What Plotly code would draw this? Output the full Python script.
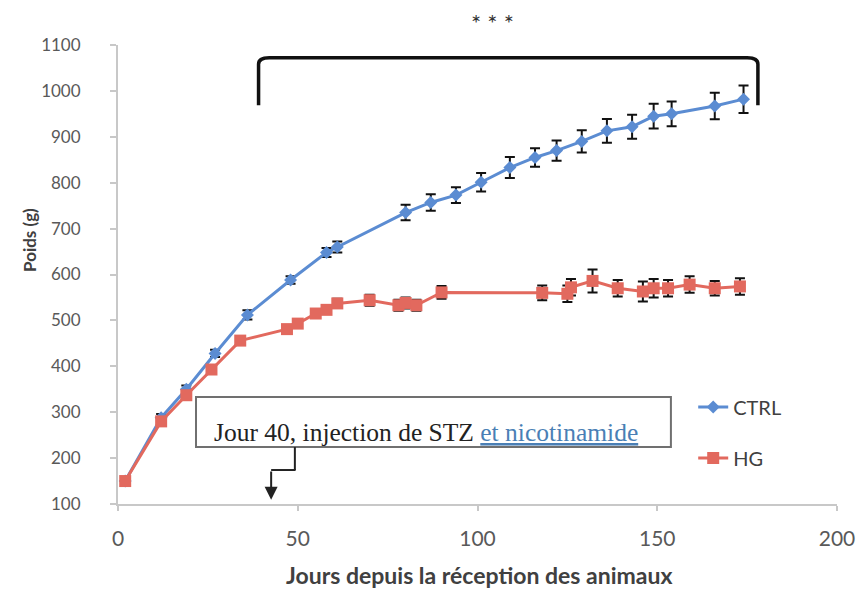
import plotly.graph_objects as go

# Body weight follow-up (g) by day since arrival
ctrl_days = [2, 12, 19, 27, 36, 48, 58, 61, 80, 87, 94, 101, 109, 116, 122, 129, 136, 143, 149, 154, 166, 174]
ctrl_weight = [150, 288, 350, 428, 512, 588, 648, 660, 735, 757, 773, 801, 833, 855, 870, 890, 913, 922, 945, 950, 967, 982]
ctrl_err = [5, 8, 8, 8, 10, 8, 10, 12, 17, 18, 17, 20, 23, 20, 22, 24, 26, 26, 27, 27, 29, 30]

hg_days = [2, 12, 19, 26, 34, 47, 50, 55, 58, 61, 70, 78, 80, 83, 90, 118, 125, 126, 132, 139, 146, 149, 153, 159, 166, 173]
hg_weight = [150, 280, 337, 393, 456, 481, 493, 515, 523, 537, 544, 533, 538, 533, 561, 560, 558, 572, 586, 570, 563, 570, 570, 578, 570, 574]
hg_err = [5, 6, 6, 6, 6, 8, 8, 8, 8, 10, 12, 12, 12, 12, 14, 16, 18, 18, 25, 18, 22, 20, 18, 18, 16, 18]

x_ticks = [0, 50, 100, 150, 200]
y_ticks = [100, 200, 300, 400, 500, 600, 700, 800, 900, 1000, 1100]

BLUE = "#5B8CD2"
RED = "#E2695E"
AXIS_GREY = "#C8C8C8"
TEXT_GREY = "#595959"
FONT = "Lato, 'Open Sans', sans-serif"

fig = go.Figure()

fig.add_trace(go.Scatter(
    x=ctrl_days, y=ctrl_weight, name="CTRL", mode="lines+markers",
    line=dict(color=BLUE, width=3),
    marker=dict(symbol="diamond", size=10, color=BLUE),
    error_y=dict(type="data", array=ctrl_err, color="#111111", thickness=2, width=5),
    legendgroup="ctrl",
))
fig.add_trace(go.Scatter(
    x=hg_days, y=hg_weight, name="HG", mode="lines+markers",
    line=dict(color=RED, width=3),
    marker=dict(symbol="square", size=12, color=RED),
    error_y=dict(type="data", array=hg_err, color="#111111", thickness=2, width=5),
    legendgroup="hg",
))

# Significance bracket over the post-injection period
bx0, bx1, by_top, by_end = 39.1, 178.0, 1072, 969
bracket = (f"M {bx0},{by_end} L {bx0},{by_top - 14} Q {bx0},{by_top} {bx0 + 3},{by_top} "
           f"L {bx1 - 3},{by_top} Q {bx1},{by_top} {bx1},{by_top - 14} L {bx1},{by_end}")

shapes = [
    dict(type="path", xref="x", yref="y", path=bracket,
         line=dict(color="#111111", width=3.5), layer="above"),
    # Callout box for the injection day
    dict(type="rect", xref="x", yref="y", x0=21.7, x1=153.8, y0=224, y1=333,
         line=dict(color="#707070", width=2), fillcolor="white", layer="above"),
    # Elbow connector from the box down to day 40
    dict(type="line", xref="x", yref="y", x0=49.2, x1=49.2, y0=224, y1=174,
         line=dict(color="#222222", width=2), layer="above"),
    dict(type="line", xref="x", yref="y", x0=49.4, x1=42.6, y0=174, y1=174,
         line=dict(color="#222222", width=2), layer="above"),
]

annotations = [
    dict(x=42.6, y=109, xref="x", yref="y", ax=42.6, ay=174, axref="x", ayref="y",
         text="", showarrow=True, arrowhead=2, arrowsize=1.3, arrowwidth=2,
         arrowcolor="#222222"),
    dict(x=26.1, y=255, xref="x", yref="y", xanchor="left", yanchor="middle", showarrow=False,
         text="Jour 40, injection de STZ <span style='color:#4A7FB5'><u>et nicotinamide</u></span>",
         font=dict(family="'Liberation Serif', 'DejaVu Serif', serif", size=25.5, color="#222222")),
    dict(x=(497 - 118) / 727, y=(504 - 22) / 459, xref="paper", yref="paper",
         xanchor="center", yanchor="middle", showarrow=False,
         text="* * *", font=dict(family=FONT, size=24, color="#333333")),
    dict(x=(28 - 118) / 727, y=(504 - 240) / 459, xref="paper", yref="paper",
         xanchor="center", yanchor="middle", showarrow=False, textangle=-90,
         text="<b>Poids (g)</b>", font=dict(family=FONT, size=17, color="#404040")),
    dict(x=(483 - 118) / 727, y=(504 - 575) / 459, xref="paper", yref="paper",
         xanchor="center", yanchor="middle", showarrow=False,
         text="<b>Jours depuis la réception des animaux</b>",
         font=dict(family=FONT, size=23, color="#404040")),
]

fig.update_layout(
    width=867, height=591,
    margin=dict(l=118, r=22, t=45, b=87),
    paper_bgcolor="white", plot_bgcolor="white",
    font=dict(family=FONT, size=17, color=TEXT_GREY),
    showlegend=True,
    legend=dict(x=0.80, y=0.254, xanchor="left", yanchor="top",
                bgcolor="rgba(255,255,255,0)", tracegroupgap=22,
                font=dict(family=FONT, size=20, color="#404040")),
    shapes=shapes,
    annotations=annotations,
)

fig.update_xaxes(
    range=[0, 200], tickvals=x_ticks, showgrid=False, zeroline=False,
    showline=True, linecolor=AXIS_GREY, linewidth=2,
    ticks="outside", ticklen=5, tickcolor=AXIS_GREY, tickwidth=1.5,
    ticklabelstandoff=10, tickfont=dict(size=21),
)
fig.update_yaxes(
    range=[100, 1100], tickvals=y_ticks, showgrid=False, zeroline=False,
    showline=True, linecolor=AXIS_GREY, linewidth=2,
    ticks="outside", ticklen=6, tickcolor=AXIS_GREY, tickwidth=1.5,
    ticklabelstandoff=26,
)

fig.write_html("out.html")
